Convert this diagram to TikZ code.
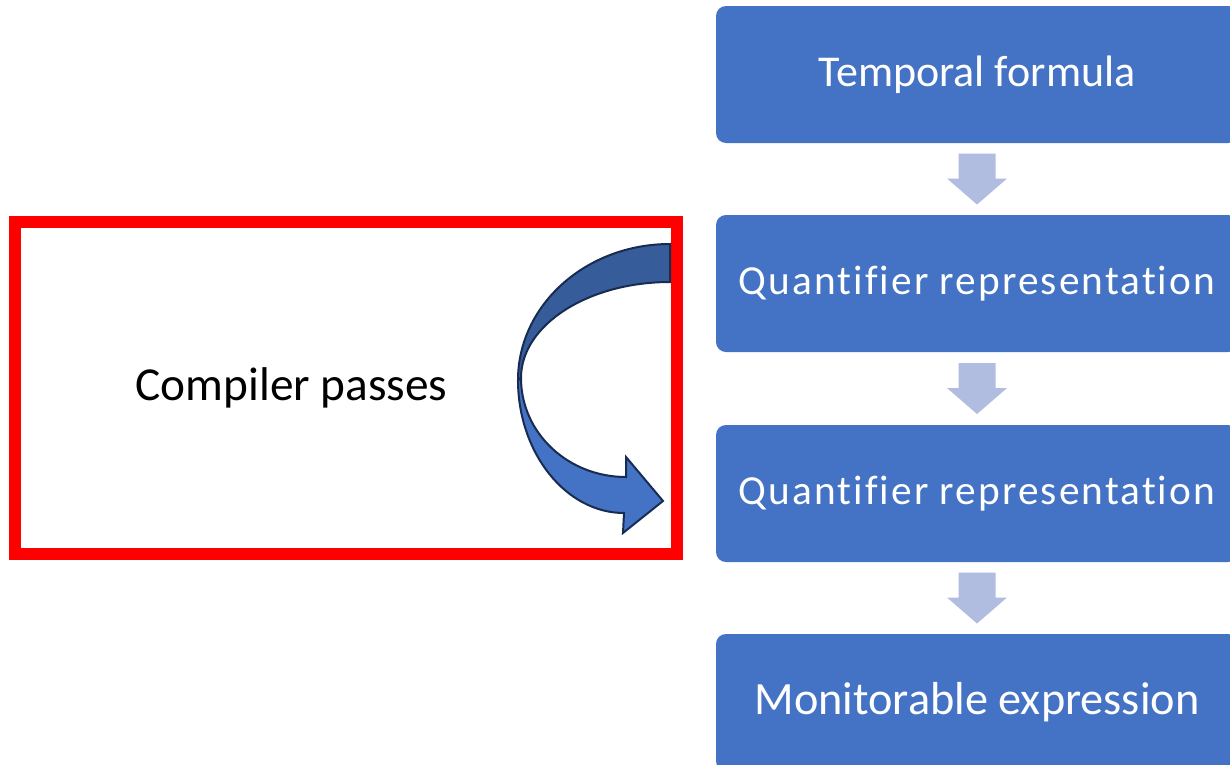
\documentclass[tikz,border=0pt]{standalone}
\usepackage{fontspec}
\setmainfont{Carlito}[Ligatures=NoCommon]
\usetikzlibrary{calc}

\definecolor{boxblue}{HTML}{4472C4}
\definecolor{flowarrow}{RGB}{176,189,224}
\definecolor{bandback}{HTML}{365C9A}
\definecolor{bandedge}{RGB}{24,44,82}

% block arrow pointing down, centred between two stacked stages
\newcommand\flowstep[2]{%
  \path ($(#1.south)!0.5!(#2.north)$) coordinate (#1-#2);
  \fill[flowarrow]
    ($(#1-#2)+(-18.5,-25.5)$) -- ($(#1-#2)+(18.5,-25.5)$) --
    ($(#1-#2)+(18.5,-0.5)$) -- ($(#1-#2)+(30,-0.5)$) --
    ($(#1-#2)+(0,25.5)$) -- ($(#1-#2)+(-30,-0.5)$) --
    ($(#1-#2)+(-18.5,-0.5)$) -- cycle;
}

\begin{document}
\begin{tikzpicture}[x=0.75pt,y=-0.75pt,
  stage/.style={fill=boxblue, rounded corners=7.5pt, inner sep=0pt,
    minimum width=391.5pt, minimum height=102.75pt, text=white},
  toptext/.style={font=\fontsize{33}{40}\selectfont},
  midtext/.style={font=\fontsize{31}{38}\selectfont\addfontfeatures{LetterSpace=5}},
  endtext/.style={font=\fontsize{34.7}{42}\selectfont},
  band/.style={draw=bandedge, line width=1.5pt, line join=miter}]

\useasboundingbox (0,0) rectangle (1230,764);
\clip (0,0) rectangle (1230,764);
\fill[white] (0,0) rectangle (1230,764);

% pipeline stages
\node[stage, toptext] (temporal) at (977,74.5)  {Temporal formula};
\node[stage, midtext] (quantA)   at (977,283.5) {Quantifier representation};
\node[stage, midtext] (quantB)   at (977,493.5) {Quantifier representation};
\node[stage, endtext] (monitor)  at (977,702.5) {Monitorable expression};

\flowstep{temporal}{quantA}
\flowstep{quantA}{quantB}
\flowstep{quantB}{monitor}

% compiler passes frame
\node[draw=red, line width=9pt, inner sep=0pt,
      minimum width=496.5pt, minimum height=249pt] (frame) at (346,388) {};
\node[font=\fontsize{35.5}{42}\selectfont] (passes) at (291.5,388) {Compiler passes};

% curved arrow: front band with head
\filldraw[band, fill=boxblue]
  (518,380) .. controls (518,453) and (566,513) .. (624,513)
  -- (623,533) -- (663,501) -- (626,457) -- (626,477)
  .. controls (568,477) and (521,433) .. (521,378) -- cycle;
% curved arrow: back band
\filldraw[band, fill=bandback]
  (670,244) .. controls (586,244) and (518,305) .. (518,380)
  -- (521,378) .. controls (521,325) and (588,282) .. (670,282) -- cycle;
\end{tikzpicture}
\end{document}
